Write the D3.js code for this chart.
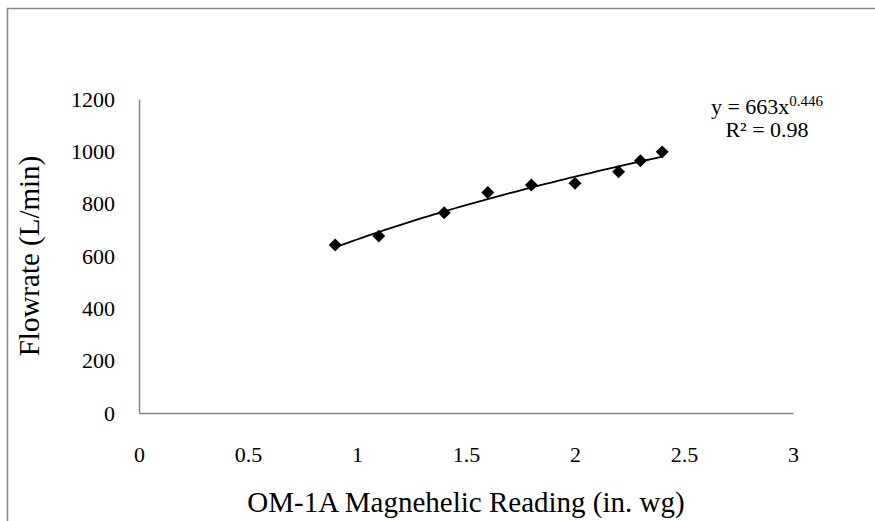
<!DOCTYPE html>
<html>
<head>
<meta charset="utf-8">
<script src="https://cdn.jsdelivr.net/npm/d3@7"></script>
<style>
  html, body { margin: 0; padding: 0; background: #fff; }
  svg { display: block; font-family: "Liberation Serif", "Times New Roman", serif; }
</style>
</head>
<body>
<svg id="chart" width="875" height="521"></svg>
<script>
// Magnehelic reading (in. wg) vs. measured flowrate (L/min)
const readings = [0.9, 1.1, 1.4, 1.6, 1.8, 2.0, 2.2, 2.3, 2.4];
const flowrates = [642, 676, 765, 843, 871, 878, 922, 964, 998];

// Power-law trendline y = a * x^b
const fitCoef = 663;
const fitExp = 0.446;
const fitR2 = "0.98";

const xTicks = [0, 0.5, 1, 1.5, 2, 2.5, 3];
const yTicks = [0, 200, 400, 600, 800, 1000, 1200];
const xTitle = "OM-1A Magnehelic Reading (in. wg)";
const yTitle = "Flowrate (L/min)";

const svg = d3.select("#chart");
const W = 875, H = 521;
const plot = { left: 139, right: 793, top: 99, bottom: 413 };
const axisGrey = "#878787";

// outer frame
svg.append("rect")
  .attr("x", 7.5).attr("y", 8.5)
  .attr("width", W + 20).attr("height", H + 20)
  .attr("fill", "#fff").attr("stroke", axisGrey).attr("stroke-width", 1.5);

const x = d3.scaleLinear().domain([0, 3]).range([plot.left, plot.right]);
const y = d3.scaleLinear().domain([0, 1200]).range([plot.bottom, plot.top]);

// x axis
const xAxis = d3.axisBottom(x).tickValues(xTicks).tickSize(0).tickPadding(33)
  .tickFormat(d => String(d));
const gx = svg.append("g").attr("transform", `translate(0,${plot.bottom})`).call(xAxis);
gx.select(".domain").attr("stroke", axisGrey).attr("stroke-width", 1.5);
gx.selectAll("text").attr("font-size", 22).attr("fill", "#000")
  .attr("font-family", "Liberation Serif");

// y axis
const yAxis = d3.axisLeft(y).tickValues(yTicks).tickSize(0).tickPadding(24)
  .tickFormat(d => String(d));
const gy = svg.append("g").attr("transform", `translate(${plot.left},0)`).call(yAxis);
gy.select(".domain").attr("stroke", axisGrey).attr("stroke-width", 1.5);
gy.selectAll("text").attr("font-size", 22).attr("fill", "#000")
  .attr("font-family", "Liberation Serif");

// axis titles
svg.append("text")
  .attr("x", (plot.left + plot.right) / 2).attr("y", 512)
  .attr("text-anchor", "middle").attr("font-size", 29)
  .text(xTitle);

svg.append("text")
  .attr("transform", `translate(39,${(plot.top + plot.bottom) / 2}) rotate(-90)`)
  .attr("text-anchor", "middle").attr("font-size", 29)
  .text(yTitle);

// trendline across the measured range
const xMin = d3.min(readings), xMax = d3.max(readings);
const trend = d3.range(0, 61).map(i => {
  const xv = xMin + (xMax - xMin) * i / 60;
  return [xv, fitCoef * Math.pow(xv, fitExp)];
});
svg.append("path")
  .datum(trend)
  .attr("fill", "none").attr("stroke", "#000").attr("stroke-width", 1.8)
  .attr("d", d3.line().x(d => x(d[0])).y(d => y(d[1])));

// diamond markers
const diamond = d3.symbol().type(d3.symbolSquare).size(84);
svg.append("g").selectAll("path")
  .data(readings.map((r, i) => [r, flowrates[i]]))
  .join("path")
  .attr("d", diamond)
  .attr("fill", "#000")
  .attr("transform", d => `translate(${x(d[0])},${y(d[1])}) rotate(45)`);

// fit equation
const eq = svg.append("text")
  .attr("x", 767).attr("y", 114)
  .attr("text-anchor", "middle").attr("font-size", 22);
eq.append("tspan").text(`y = ${fitCoef}x`);
eq.append("tspan").attr("font-size", 15).attr("dy", -8).text(String(fitExp));

svg.append("text")
  .attr("x", 767).attr("y", 137)
  .attr("text-anchor", "middle").attr("font-size", 22)
  .text(`R² = ${fitR2}`);
</script>
</body>
</html>
